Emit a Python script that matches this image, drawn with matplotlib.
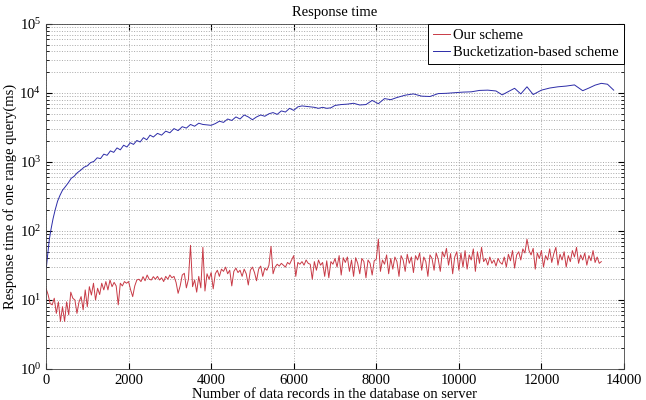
import numpy as np
import matplotlib
matplotlib.use('Agg')
import matplotlib.pyplot as plt
from matplotlib.ticker import LogLocator, FixedLocator

plt.rcParams['font.family'] = ['Liberation Serif', 'DejaVu Serif']
plt.rcParams['mathtext.fontset'] = 'stix'

# our scheme, one sample every 50 records
red_step = 50
red_y = [
    14.8, 12, 8.9, 8.5, 10.6, 6.4, 9.4, 4.9, 8, 4.9, 9.4, 6.1, 13, 10.6, 10, 6.4, 9.4, 11.2, 7.2, 14,
    8, 15.6, 11.8, 17.5, 10, 14.8, 12, 17.5, 14, 18.5, 14, 19.5, 15.6, 18, 16, 8.5, 17.5, 16, 18.5, 17.5,
    18.5, 14, 11.2, 16, 19.5, 20, 18.5, 21.8, 19, 23, 20, 19.5, 21.8, 20, 22, 19.5, 21, 18.5, 22, 20,
    23, 21, 22, 18, 12.5, 16, 23, 24.4, 15, 20, 62, 15.6, 19.5, 13, 22, 15, 58, 13.5, 24, 20,
    25, 14.5, 24, 27, 22, 28, 26, 30, 24, 27, 16, 26, 29, 25, 27, 22, 28, 24, 16.5, 27,
    30, 25, 19, 28, 31, 22, 29, 27, 32, 60, 24, 30, 33, 31, 34, 32, 30, 35, 33, 38,
    44, 22, 35, 33, 36, 32, 38, 34, 33, 20, 36, 27, 38, 32, 35, 22, 37, 21, 36, 33,
    40, 30, 44, 23, 41, 35, 42, 26, 38, 22, 41, 34, 24, 40, 36, 21, 38, 34, 23, 37,
    39, 76, 26, 38, 33, 45, 24, 40, 28, 42, 36, 22, 44, 38, 26, 46, 34, 42, 25, 44,
    38, 48, 27, 42, 36, 22, 45, 40, 27, 48, 39, 26, 50, 42, 56, 32, 47, 24, 42, 50,
    27, 48, 30, 52, 28, 45, 38, 55, 26, 50, 34, 58, 36, 40, 32, 42, 34, 38, 31, 40,
    35, 33, 42, 30, 46, 37, 52, 29, 45, 50, 38, 55, 48, 76, 52, 45, 56, 28, 48, 40,
    52, 30, 44, 38, 55, 35, 47, 58, 32, 46, 38, 50, 30, 44, 36, 52, 42, 58, 34, 45,
    38, 48, 32, 44, 37, 52, 35, 42, 34, 36,
]
red_x = np.arange(len(red_y)) * red_step

# bucketization-based scheme
blue_x = [10, 40, 80, 120, 170, 220, 280, 340, 400, 470, 540, 610, 680, 760, 840, 920,
          1000, 1080, 1160, 1240, 1320, 1400, 1480, 1560, 1640, 1720, 1800, 1880, 1960,
          2040, 2120, 2200, 2280, 2360, 2440, 2520, 2600, 2700, 2800, 2900, 3000, 3100,
          3200, 3300, 3400, 3500, 3600, 3700, 3800, 3900, 4000, 4100, 4200, 4300, 4400,
          4500, 4600, 4700, 4800, 4900, 5000, 5100, 5200, 5300, 5400, 5500, 5600, 5700,
          5800, 5900, 6000, 6100, 6200, 6300, 6400, 6500, 6600, 6700, 6800, 6900, 7000,
          7150, 7300, 7450, 7600, 7750, 7900, 8050, 8200, 8350, 8500, 8700, 8900, 9100,
          9300, 9500, 9700, 9900, 10100, 10300, 10500, 10700, 10900, 11050, 11200, 11350,
          11500, 11650, 11800, 12000, 12200, 12400, 12600, 12800, 13000, 13150, 13300,
          13450, 13600, 13750]
blue_y = [30, 45, 75, 105, 150, 200, 270, 330, 390, 440, 500, 580, 620, 700, 760, 840,
          880, 980, 1020, 1150, 1120, 1300, 1250, 1450, 1380, 1600, 1500, 1750, 1650,
          1900, 1800, 2050, 1950, 2250, 2100, 2450, 2300, 2600, 2450, 2800, 2650, 3050,
          2850, 3250, 3100, 3500, 3300, 3650, 3500, 3450, 3400, 3600, 3900, 3750, 4200,
          4000, 4500, 4200, 4800, 4500, 4100, 4500, 4800, 4600, 5000, 5200, 4900, 5500,
          5300, 6000, 5600, 6300, 6500, 6400, 6300, 6200, 6000, 6200, 6000, 6100, 6600,
          6800, 6900, 7100, 6700, 6800, 7800, 7000, 8300, 8000, 8600, 9300, 9700, 9000,
          8900, 9800, 9900, 10100, 10300, 10400, 10900, 11000, 10700, 9400, 10500, 11700,
          9700, 12300, 9500, 11000, 11800, 12300, 12600, 13100, 10800, 11800, 13000,
          13800, 13400, 11000]

fig = plt.figure(figsize=(6.46, 4.0), dpi=100)
ax = fig.add_axes([46/646, 31/400, 578/646, 345/400])

ax.plot(red_x, red_y, color='#c83a46', lw=0.7, label='Our scheme')
ax.plot(blue_x, blue_y, color='#2c2ca8', lw=0.7, label='Bucketization-based scheme')

ax.set_yscale('log')
ax.set_xlim(0, 14000)
ax.set_ylim(1, 1e5)
ax.xaxis.set_major_locator(FixedLocator(np.arange(0, 14001, 2000)))
ax.yaxis.set_major_locator(LogLocator(base=10, numticks=10))
ax.yaxis.set_minor_locator(LogLocator(base=10, subs=np.arange(2, 10), numticks=20))

ax.grid(True, which='major', axis='both', ls=':', color='#a8a8a8', lw=0.7)
ax.grid(True, which='minor', axis='y', ls=':', color='#a8a8a8', lw=0.7)

ax.tick_params(which='both', direction='in', top=True, right=True, labelsize=10.5)
ax.tick_params(which='major', length=4)
ax.tick_params(which='minor', length=2)
for s in ax.spines.values():
    s.set_linewidth(0.6)
    s.set_color('#444444')

ax.set_title('Response time', fontsize=10.5, pad=6)
ax.set_xlabel('Number of data records in the database on server', fontsize=10.5, labelpad=1)
ax.set_ylabel('Response time of one range query(ms)', fontsize=10.5, labelpad=2)

leg = ax.legend(loc='upper right', borderaxespad=0, fontsize=10.5, fancybox=False,
                framealpha=1, edgecolor='black', handlelength=1.2, handletextpad=0.2,
                borderpad=0.35, labelspacing=0.25)
leg.get_frame().set_linewidth(0.7)

fig.savefig('out.png', dpi=100)
